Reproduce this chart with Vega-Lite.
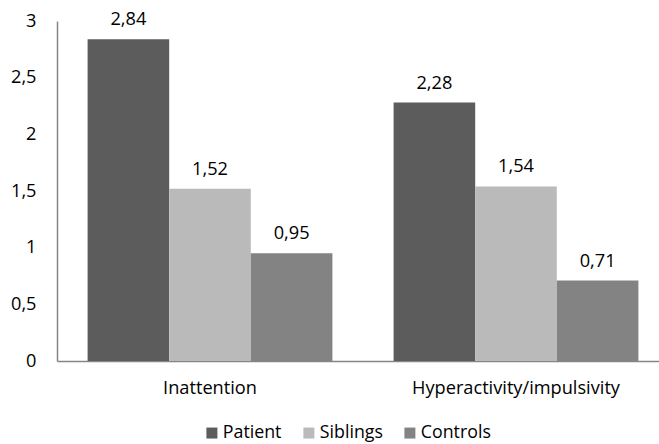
{
  "$schema": "https://vega.github.io/schema/vega-lite/v6.json",
  "width": 602,
  "height": 340,
  "autosize": {"type": "none"},
  "padding": {"left": 57, "top": 21, "right": 0, "bottom": 83},
  "background": "white",
  "config": {
    "locale": {"number": {"decimal": ",", "thousands": ".", "grouping": [3], "currency": ["", " €"]}},
    "font": "Open Sans",
    "view": {"stroke": null}
  },
  "data": {
    "values": [
      {"category": "Inattention", "group": "Patient", "value": 2.84},
      {"category": "Inattention", "group": "Siblings", "value": 1.52},
      {"category": "Inattention", "group": "Controls", "value": 0.95},
      {"category": "Hyperactivity/impulsivity", "group": "Patient", "value": 2.28},
      {"category": "Hyperactivity/impulsivity", "group": "Siblings", "value": 1.54},
      {"category": "Hyperactivity/impulsivity", "group": "Controls", "value": 0.71}
    ]
  },
  "encoding": {
    "x": {
      "field": "category", "type": "nominal", "sort": ["Inattention", "Hyperactivity/impulsivity"],
      "scale": {"range": [0, 612], "paddingInner": 0.2, "paddingOuter": 0.1},
      "axis": {"title": null, "labelAngle": 0, "ticks": false, "labelPadding": 18, "labelFontSize": 18.2, "labelLimit": 0, "labelColor": "#000000", "domainColor": "#868686", "domainWidth": 1.5, "labelFont": "Open Sans"}
    },
    "xOffset": {"field": "group", "type": "nominal", "sort": ["Patient", "Siblings", "Controls"], "scale": {"paddingInner": 0, "paddingOuter": 0}},
    "y": {
      "field": "value", "type": "quantitative",
      "scale": {"domain": [0, 3], "nice": false},
      "axis": {"title": null, "values": [0, 0.5, 1, 1.5, 2, 2.5, 3], "grid": false, "ticks": false, "labelPadding": 21, "labelFontSize": 18.2, "labelColor": "#000000", "domainColor": "#868686", "domainWidth": 1.5, "format": ",.1~f", "labelFont": "Open Sans"}
    }
  },
  "layer": [
    {
      "mark": {"type": "bar"},
      "encoding": {
        "color": {
          "field": "group", "type": "nominal", "sort": ["Patient", "Siblings", "Controls"],
          "scale": {"domain": ["Patient", "Siblings", "Controls"], "range": ["#5c5c5c", "#bababa", "#838383"]},
          "legend": {
            "title": null, "orient": "none", "direction": "horizontal", "legendX": 146, "legendY": 403,
            "symbolType": "square", "symbolSize": 121, "symbolStrokeWidth": 0, "labelFontSize": 17.8, "labelColor": "#000000",
            "labelOffset": 2, "columnPadding": 18, "labelFont": "Open Sans"
          }
        }
      }
    },
    {
      "mark": {"type": "text", "baseline": "alphabetic", "dy": -14, "fontSize": 18.2, "color": "#000000", "font": "Open Sans"},
      "encoding": {
        "text": {"field": "value", "type": "quantitative", "format": ".2f"}
      }
    }
  ]
}
